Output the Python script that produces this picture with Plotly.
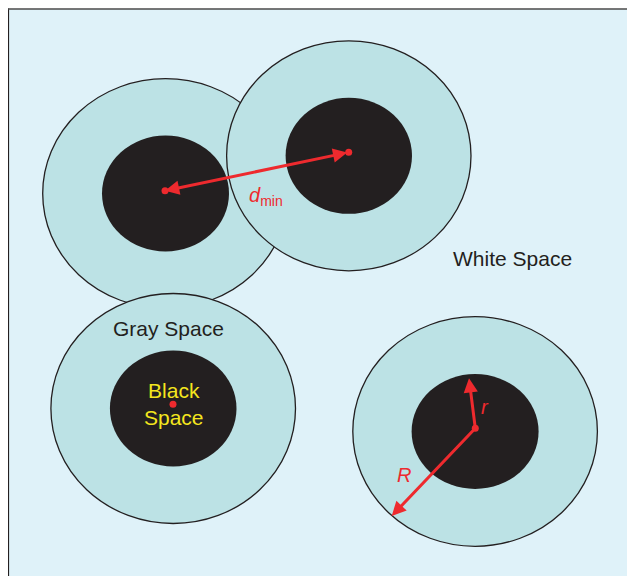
import plotly.graph_objects as go

# ---- data (pixel-space diagram units) ----
circle_names = ["A", "B", "C", "D"]
center_x = [165.5, 348.8, 173.2, 475.1]
center_y = [193.5, 155.8, 408.5, 431.5]
outer_rx = [122.8, 122.2, 122.3, 122.3]
outer_ry = [114.8, 115.0, 115.0, 114.8]
inner_rx = [63.5, 63.2, 63.3, 63.5]
inner_ry = [58.0, 58.0, 58.0, 57.5]

dot_x = [165.0, 348.7, 173.0, 475.3]
dot_y = [190.7, 152.3, 404.3, 428.3]

# arrows: tail -> head
arrow_tail_x = [348.7, 475.3, 475.3]
arrow_tail_y = [152.3, 428.3, 428.3]
arrow_head_x = [165.0, 469.0, 391.7]
arrow_head_y = [190.7, 378.3, 516.0]
arrow_side = ["end+start", "end", "end"]

label_text = ["Gray Space", "White Space", "Black<br>Space",
              "<i>d</i><sub>min</sub>", "<i>r</i>", "<i>R</i>"]
label_x = [168.5, 512.8, 173.5, 247.0, 485.0, 404.0]
label_y = [328.0, 258.5, 404.0, 196.0, 406.5, 475.0]
label_color = ["#231f20", "#231f20", "#f4e61e", "#ee2a2e", "#ee2a2e", "#ee2a2e"]
label_anchor = ["center", "center", "center", "left", "center", "center"]

W, H = 635, 576
OFF = 8  # page body margin offset
FONT = "Liberation Sans, Arial, Helvetica, sans-serif"
RED = "#ee2a2e"

fig = go.Figure()

shapes = []
# frame background
shapes.append(dict(type="rect", xref="x", yref="y", x0=8.5, x1=630.5, y0=9.2, y1=H + 20,
                   fillcolor="#dff2f9", line=dict(width=0), layer="below"))
# frame borders
shapes.append(dict(type="line", xref="x", yref="y", x0=8.2, x1=8.2, y0=8.5, y1=H + 20,
                   line=dict(color="#231f20", width=1.8), layer="below"))
shapes.append(dict(type="line", xref="x", yref="y", x0=7.5, x1=631.5, y0=9.0, y1=9.0,
                   line=dict(color="#4a4a4a", width=1.6), layer="below"))
shapes.append(dict(type="line", xref="x", yref="y", x0=630.5, x1=630.5, y0=8.5, y1=H + 20,
                   line=dict(color="#62666a", width=2.2), layer="below"))

for i in range(len(circle_names)):
    cx, cy = center_x[i], center_y[i]
    shapes.append(dict(type="circle", xref="x", yref="y",
                       x0=cx - outer_rx[i], x1=cx + outer_rx[i],
                       y0=cy - outer_ry[i], y1=cy + outer_ry[i],
                       fillcolor="#bce2e5", line=dict(color="#231f20", width=1.3),
                       layer="below"))
    shapes.append(dict(type="circle", xref="x", yref="y",
                       x0=cx - inner_rx[i], x1=cx + inner_rx[i],
                       y0=cy - inner_ry[i], y1=cy + inner_ry[i],
                       fillcolor="#231f20", line=dict(width=0), layer="below"))

annotations = []
for i in range(len(arrow_tail_x)):
    annotations.append(dict(x=arrow_head_x[i], y=arrow_head_y[i],
                            ax=arrow_tail_x[i], ay=arrow_tail_y[i],
                            xref="x", yref="y", axref="x", ayref="y",
                            text="", showarrow=True, arrowhead=2, startarrowhead=2,
                            arrowside=arrow_side[i], arrowsize=0.95, startarrowsize=0.95,
                            arrowwidth=3, arrowcolor=RED, standoff=0, startstandoff=0))

for i in range(len(label_text)):
    annotations.append(dict(x=label_x[i], y=label_y[i], xref="x", yref="y",
                            text=label_text[i], showarrow=False,
                            xanchor=label_anchor[i], yanchor="middle",
                            font=dict(family=FONT, size=21 if i < 3 else 20,
                                      color=label_color[i])))

fig.add_trace(go.Scatter(x=dot_x, y=dot_y, mode="markers",
                         marker=dict(size=7, color=RED, line=dict(width=0)),
                         hoverinfo="skip", showlegend=False, cliponaxis=False))

fig.update_layout(
    width=W, height=H,
    margin=dict(l=0, r=0, t=0, b=0),
    paper_bgcolor="white", plot_bgcolor="white",
    shapes=shapes, annotations=annotations,
    showlegend=False,
    xaxis=dict(range=[OFF, W + OFF], visible=False, fixedrange=True),
    yaxis=dict(range=[H + OFF, OFF], visible=False, fixedrange=True),
)

fig.write_html("out.html")
